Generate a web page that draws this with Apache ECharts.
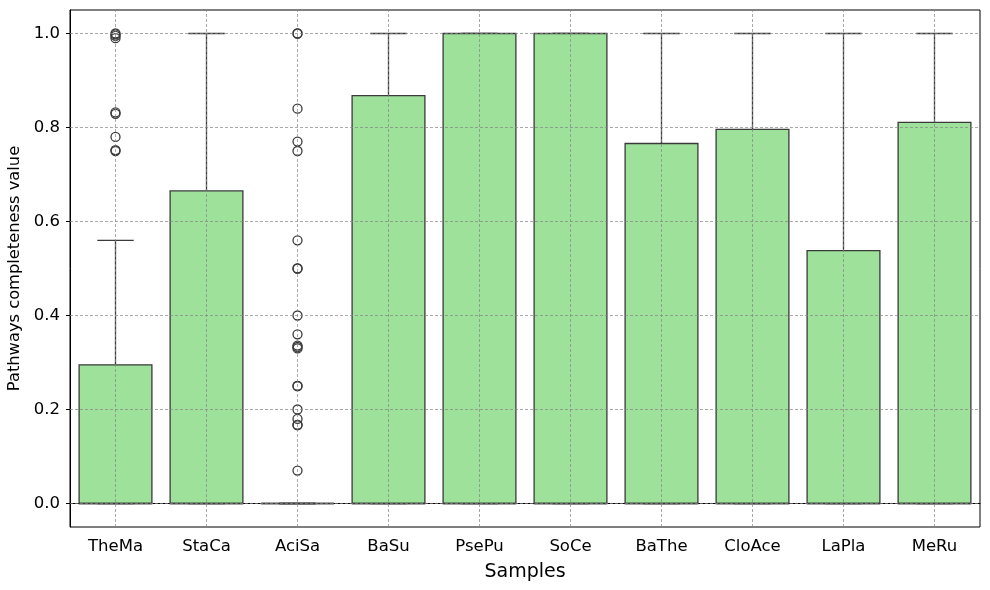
<!DOCTYPE html>
<html>
<head>
<meta charset="utf-8">
<script src="https://cdn.jsdelivr.net/npm/echarts@6/dist/echarts.min.js"></script>
<style>
html,body{margin:0;padding:0;background:#fff;}
#chart{width:990px;height:590px;}
</style>
</head>
<body>
<div id="chart"></div>
<script>
const categories = ['TheMa','StaCa','AciSa','BaSu','PsePu','SoCe','BaThe','CloAce','LaPla','MeRu'];
const lowerWhisker = [0, 0, 0, 0, 0, 0, 0, 0, 0, 0];
const q1Values     = [0, 0, 0, 0, 0, 0, 0, 0, 0, 0];
const medianValues = [0, 0, 0, 0, 0, 0, 0, 0, 0, 0];
const q3Values     = [0.295, 0.665, 0, 0.868, 1, 1, 0.766, 0.796, 0.538, 0.811];
const upperWhisker = [0.56, 1, 0, 1, 1, 1, 1, 1, 1, 1];
const outliersTheMa = [0.75, 0.752, 0.78, 0.829, 0.832, 0.99, 0.995, 0.998, 1.0];
const outliersAciSa = [1.0, 1.0, 0.84, 0.77, 0.75, 0.56, 0.5, 0.5, 0.4, 0.36, 0.33, 0.333, 0.336, 0.25, 0.25, 0.2, 0.18, 0.167, 0.167, 0.07];
const yTicks = [0, 0.2, 0.4, 0.6, 0.8, 1.0];

const boxData = categories.map((c, i) => [i, lowerWhisker[i], q1Values[i], medianValues[i], q3Values[i], upperWhisker[i]]);
const outlierData = [];
outliersTheMa.forEach(v => outlierData.push([categories[0], v]));
outliersAciSa.forEach(v => outlierData.push([categories[2], v]));

const edge = '#3a3a3a';
const fill = '#9de19a';
const gridStyle = { color: '#858585', width: 0.7, type: [3, 2] };

const chart = echarts.init(document.getElementById('chart'), null, { renderer: 'canvas' });
chart.setOption({
  animation: false,
  backgroundColor: '#fff',
  textStyle: { fontFamily: 'DejaVu Sans' },
  grid: { left: 70, right: 10, top: 10, bottom: 63, containLabel: false, outerBoundsMode: 'none', show: true, borderColor: '#000', borderWidth: 1, backgroundColor: 'transparent' },
  xAxis: {
    type: 'category',
    data: categories,
    boundaryGap: true,
    name: 'Samples',
    nameLocation: 'middle',
    nameGap: 36,
    nameTextStyle: { fontSize: 19, color: '#000', fontFamily: 'DejaVu Sans' },
    axisLine: { lineStyle: { color: '#000', width: 1 } },
    axisTick: { alignWithLabel: true, length: 4, lineStyle: { color: '#000' } },
    axisLabel: { fontSize: 16.5, color: '#000', margin: 11, fontFamily: 'DejaVu Sans' },
    splitLine: { show: false }
  },
  yAxis: {
    type: 'value',
    min: -0.05,
    max: 1.05,
    name: 'Pathways completeness value',
    nameLocation: 'middle',
    nameGap: 44,
    nameTextStyle: { fontSize: 16.3, color: '#000', fontFamily: 'DejaVu Sans' },
    axisLine: { show: true, lineStyle: { color: '#000', width: 1 } },
    axisTick: { show: true, length: 4, customValues: yTicks, lineStyle: { color: '#000' } },
    axisLabel: { fontSize: 16.5, color: '#000', margin: 10, customValues: yTicks, formatter: v => v.toFixed(1), fontFamily: 'DejaVu Sans' },
    splitLine: { show: false }
  },
  series: [
    {
      type: 'line',
      data: [],
      z: 1,
      silent: true,
      markLine: {
        silent: true,
        symbol: ['none', 'none'],
        label: { show: false },
        lineStyle: gridStyle,
        emphasis: { disabled: true },
        data: yTicks.map(v => ({ yAxis: v })).concat(categories.map(c => ({ xAxis: c })))
      }
    },
    {
      type: 'custom',
      z: 3,
      data: boxData,
      encode: { x: 0, y: [1, 2, 3, 4, 5] },
      renderItem: function (params, api) {
        const idx = api.value(0);
        const lw = api.coord([idx, api.value(1)]);
        const q1 = api.coord([idx, api.value(2)]);
        const md = api.coord([idx, api.value(3)]);
        const q3 = api.coord([idx, api.value(4)]);
        const uw = api.coord([idx, api.value(5)]);
        const bw = api.size([1, 0])[0] * 0.8;
        const cx = q1[0];
        const cap = bw / 4;
        const ls = { stroke: edge, lineWidth: 1.3 };
        return {
          type: 'group',
          children: [
            { type: 'line', shape: { x1: cx, y1: q3[1], x2: cx, y2: uw[1] }, style: ls },
            { type: 'line', shape: { x1: cx, y1: q1[1], x2: cx, y2: lw[1] }, style: ls },
            { type: 'line', shape: { x1: cx - cap, y1: uw[1], x2: cx + cap, y2: uw[1] }, style: ls },
            { type: 'line', shape: { x1: cx - cap, y1: lw[1], x2: cx + cap, y2: lw[1] }, style: ls },
            { type: 'rect', shape: { x: cx - bw / 2, y: q3[1], width: bw, height: q1[1] - q3[1] }, style: { fill: fill, stroke: edge, lineWidth: 1.3 } },
            { type: 'line', shape: { x1: cx - bw / 2, y1: md[1], x2: cx + bw / 2, y2: md[1] }, style: ls }
          ]
        };
      }
    },
    {
      type: 'scatter',
      z: 4,
      data: outlierData,
      symbol: 'circle',
      symbolSize: 9,
      itemStyle: { color: 'rgba(0,0,0,0)', borderColor: edge, borderWidth: 1.3, opacity: 1 }
    }
  ]
});
</script>
</body>
</html>
